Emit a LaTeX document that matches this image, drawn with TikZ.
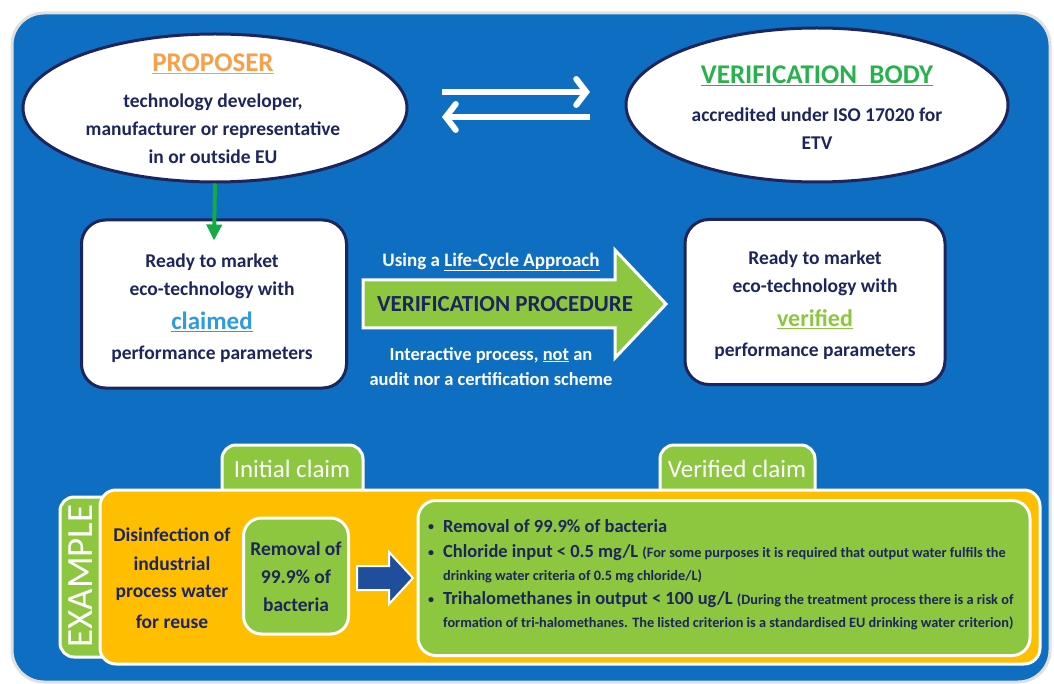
\documentclass[tikz,border=0pt]{standalone}
\usepackage{fontspec}
\setmainfont{Carlito}
\usetikzlibrary{shapes.geometric,arrows.meta,calc}
\definecolor{bluebg}{RGB}{14,110,194}
\definecolor{navy}{RGB}{28,38,92}
\definecolor{greenL}{RGB}{141,198,63}
\definecolor{yellowP}{RGB}{255,190,0}
\definecolor{orangeT}{RGB}{247,160,74}
\definecolor{greenT}{RGB}{40,178,75}
\definecolor{blueT}{RGB}{46,155,224}
\definecolor{darkarr}{RGB}{31,78,156}
\definecolor{connG}{RGB}{20,170,70}
\newcommand\fsz[2]{\fontsize{#1}{#2}\selectfont}
\newcommand\smbul{{\fsz{12}{14}\raisebox{0.15em}{\textbullet}}\hspace{9pt}}
\begin{document}
\begin{tikzpicture}[x=1pt,y=-1pt,
  ellip/.style={ellipse, draw=navy, line width=3, fill=white},
  whitebox/.style={rectangle, rounded corners=24, draw=navy, line width=3, fill=white},
  greenbox/.style={rectangle, rounded corners=18, draw=white, line width=3, fill=greenL},
  txt/.style={text=navy, inner sep=0pt, font=\bfseries},
  wtxt/.style={text=white, inner sep=0pt},
  bline/.style={text=navy, inner sep=0pt, anchor=west, font=\bfseries}]
\useasboundingbox (0,0) rectangle (1054,684);
\fill[white] (0,0) rectangle (1054,684);
\draw[black!12, line width=3, fill=bluebg, rounded corners=32] (12,13) rectangle (1050,682);

% ellipses
\node[ellip, minimum width=384, minimum height=148] (prop) at (215,108) {};
\node[ellip, minimum width=382, minimum height=154] (vb) at (817,105) {};
\node[txt, text=orangeT, font=\bfseries\fsz{27}{30}] (propT) at (213,64) {\underline{PROPOSER}};
\node[txt, font=\bfseries\fsz{19.5}{22}] (prop1) at (213,102) {technology developer,};
\node[txt, font=\bfseries\fsz{19.5}{22}] (prop2) at (213,130) {manufacturer or representative};
\node[txt, font=\bfseries\fsz{19.5}{22}] (prop3) at (213,157) {in or outside EU};
\node[txt, text=greenT, font=\bfseries\fsz{27}{30}] (vbT) at (817,76) {\underline{VERIFICATION\ \ BODY}};
\node[txt, font=\bfseries\fsz{19.5}{22}] (vb1) at (817,115) {accredited under ISO 17020 for};
\node[txt, font=\bfseries\fsz{19.5}{22}] (vb2) at (817,143) {ETV};

% double arrows
\coordinate (da1) at (442,92);
\coordinate (da2) at (590,92);
\coordinate (db1) at (590,117);
\coordinate (db2) at (442,117);
\draw[white, line width=6, -{Straight Barb[length=10,width=26,line cap=round]}] (da1) -- (da2);
\draw[white, line width=6, -{Straight Barb[length=10,width=26,line cap=round]}] (db1) -- (db2);

% boxes
\node[whitebox, minimum width=265, minimum height=168] (claimed) at (214,304) {};
\node[whitebox, minimum width=260, minimum height=165] (verified) at (815,302) {};
\node[txt, font=\bfseries\fsz{19.5}{22}] (c1) at (212,262) {Ready to market};
\node[txt, font=\bfseries\fsz{19.5}{22}] (c2) at (212,290) {eco-technology with};
\node[txt, text=blueT, font=\bfseries\fsz{25}{28}] (c3) at (212,322) {\underline{claimed}};
\node[txt, font=\bfseries\fsz{19.5}{22}] (c4) at (212,354) {performance parameters};
\node[txt, font=\bfseries\fsz{19.5}{22}] (v1) at (815,259) {Ready to market};
\node[txt, font=\bfseries\fsz{19.5}{22}] (v2) at (815,287) {eco-technology with};
\node[txt, text=greenL, font=\bfseries\fsz{24}{28}] (v3) at (815,319) {\underline{verified}};
\node[txt, font=\bfseries\fsz{19.5}{22}] (v4) at (815,351) {performance parameters};

% proposer -> claimed
\coordinate (gtip) at ($(claimed.north)+(0,22)$);
\draw[connG, line width=4, -{Triangle[width=15,length=16]}] (prop.south) -- (gtip);

% verification procedure arrow
\coordinate (vp1) at (363,280);
\coordinate (vp2) at (615,280);
\coordinate (vp3) at (615,250);
\coordinate (vp4) at (666,304);
\coordinate (vp5) at (615,358);
\coordinate (vp6) at (615,328);
\coordinate (vp7) at (363,328);
\filldraw[fill=greenL, draw=white, line width=3, line join=miter] (vp1) -- (vp2) -- (vp3) -- (vp4) -- (vp5) -- (vp6) -- (vp7) -- cycle;
\node[txt, text=navy, font=\bfseries\fsz{23}{26}] (vpT) at (505,304) {VERIFICATION PROCEDURE};
\node[wtxt, font=\bfseries\fsz{19}{22}] (lc) at (491,262) {Using a \underline{Life-Cycle Approach}};
\node[wtxt, font=\bfseries\fsz{18.5}{22}] (ip1) at (491,355) {Interactive process, \underline{not} an};
\node[wtxt, font=\bfseries\fsz{18.5}{22}] (ip2) at (491,379) {audit nor a certification scheme};

% example panel
\draw[greenbox, rounded corners=14] (363,505) -- (363,445) -- (222,445) -- (222,505);
\node[wtxt, font=\fsz{25}{28}] (ic) at (292,469) {Initial claim};
\draw[greenbox, rounded corners=14] (815,505) -- (815,445) -- (660,445) -- (660,505);
\node[wtxt, font=\fsz{25}{28}] (vc) at (737,469) {Verified claim};
\draw[greenbox, rounded corners=14] (115,657) -- (60,657) -- (60,497) -- (115,497);
\draw[fill=yellowP, draw=white, line width=3, rounded corners=16] (100,490) rectangle (1040,664);
\node[wtxt, rotate=90, font=\fsz{37}{40}] (ex) at (81,576) {EXAMPLE};

\node[txt, font=\bfseries\fsz{19.5}{22}] (d1) at (172,535) {Disinfection of};
\node[txt, font=\bfseries\fsz{19.5}{22}] (d2) at (172,564) {industrial};
\node[txt, font=\bfseries\fsz{19.5}{22}] (d3) at (172,593) {process water};
\node[txt, font=\bfseries\fsz{19.5}{22}] (d4) at (172,622) {for reuse};

\node[greenbox, minimum width=105, minimum height=116] (rem) at (296,576) {};
\node[txt, font=\bfseries\fsz{19.5}{22}] (r1) at (296,549) {Removal of};
\node[txt, font=\bfseries\fsz{19.5}{22}] (r2) at (296,577) {99.9\% of};
\node[txt, font=\bfseries\fsz{19.5}{22}] (r3) at (296,605) {bacteria};

\node[greenbox, minimum width=612, minimum height=155] (vbox) at (724,578) {};

% dark arrow rem -> vbox
\coordinate (k1) at (357,566);
\coordinate (k2) at (389,566);
\coordinate (k3) at (389,552);
\coordinate (k4) at (413,578);
\coordinate (k5) at (389,604);
\coordinate (k6) at (389,590);
\coordinate (k7) at (357,590);
\filldraw[fill=darkarr, draw=white, line width=2, line join=miter] (k1) -- (k2) -- (k3) -- (k4) -- (k5) -- (k6) -- (k7) -- cycle;

\node[bline] (b0) at (428,526) {\smbul\fsz{18.5}{22}Removal of 99.9\% of bacteria};
\node[bline] (b1) at (428,553) {\smbul\fsz{18.5}{22}Chloride input < 0.5 mg/L {\fsz{14.3}{16}(For some purposes it is required that output water fulfils the}};
\node[bline] (b2) at (443,576) {\fsz{14.3}{16}drinking water criteria of 0.5 mg chloride/L)};
\node[bline] (b3) at (428,600) {\smbul\fsz{18.5}{22}Trihalomethanes in output < 100 ug/L {\fsz{14.3}{16}(During the treatment process there is a risk of}};
\node[bline] (b4) at (443,623) {\fsz{14.3}{16}formation of tri-halomethanes. The listed criterion is a standardised EU drinking water criterion)};
\end{tikzpicture}
\end{document}
